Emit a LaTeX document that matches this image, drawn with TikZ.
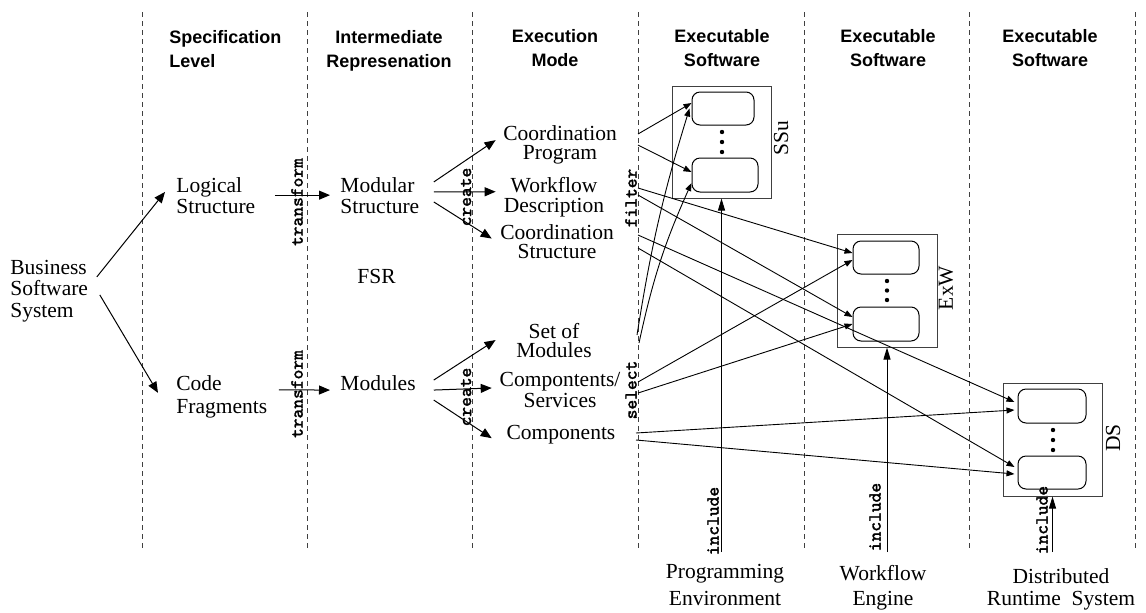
\documentclass[tikz,border=0pt]{standalone}
\usepackage{fontspec}
\setmainfont{Liberation Serif}
\setsansfont{Liberation Sans}
\newfontfamily\monolbl[FakeBold=1.6]{Latin Modern Mono}
\usetikzlibrary{arrows.meta}
\begin{document}
\begin{tikzpicture}[x=0.5pt,y=-0.5pt,
  txt/.style={inner sep=0pt, font=\fontsize{10.75pt}{#1}\selectfont, align=left},
  txt/.default=10.5pt,
  hdr/.style={inner sep=0pt, font=\sffamily\bfseries\fontsize{9pt}{11.75pt}\selectfont, align=center, anchor=base},
  mono/.style={inner sep=0pt, font=\monolbl\fontsize{9.3pt}{9.5pt}\selectfont, rotate=90},
  divider/.style={dash pattern=on 2.5pt off 2pt, black!75, line width=0.5pt},
  big/.style={-{Triangle[length=5.5pt,width=4.5pt]}, line width=0.5pt},
  sml/.style={-{Triangle[length=4pt,width=3pt]}, line width=0.45pt},
  inc/.style={-{Triangle[length=6pt,width=3.5pt]}, line width=0.5pt},
  boxout/.style={draw=black!75, line width=0.5pt, inner sep=0pt},
  boxin/.style={draw, rounded corners=4pt, line width=0.5pt, inner sep=0pt},
  bulletdot/.style={circle, fill, inner sep=0pt, minimum size=2.2pt}
]
\useasboundingbox (0,0) rectangle (1146,612);

% column dividers
\foreach \x in {142,307,472,638,804,969,1135}
  \draw[divider] (\x,12) -- (\x,548);

% headers (anchor = baseline of last line)
\node[hdr, anchor=base west, align=left] (h1) at (169,67) {Specification\\Level};
\node[hdr] (h2) at (389,67) {Intermediate\\Represenation};
\node[hdr] (h3) at (555,66) {Execution\\Mode};
\node[hdr] (h4) at (722,66) {Executable\\Software};
\node[hdr] (h5) at (888,66) {Executable\\Software};
\node[hdr] (h6) at (1050,66) {Executable\\Software};

% text nodes (anchor = baseline of last line)
\node[txt=10.75pt, anchor=base west] (bss) at (10,317) {Business\\Software\\System};
\node[txt, anchor=base west] (ls) at (176,213) {Logical\\Structure};
\node[txt=11.5pt, anchor=base west] (cf) at (176,413) {Code\\Fragments};
\node[txt, anchor=base west] (ms) at (340,213) {Modular\\Structure};
\node[txt, anchor=base west] (mo) at (340,390) {Modules};
\node[txt, anchor=base west] (fsr) at (357,283) {FSR};

\node[txt=9.5pt, anchor=base, align=center] (cp) at (560,159) {Coordination\\Program};
\node[txt=10pt, anchor=base, align=center] (wd) at (554,212) {Workflow\\Description};
\node[txt=9.5pt, anchor=base, align=center] (cs) at (557,258) {Coordination\\Structure};
\node[txt=9.5pt, anchor=base, align=center] (sm) at (554,357) {Set of\\Modules};
\node[txt=9pt, anchor=base, align=center] (co) at (560,407) {Compontents/\\Services};
\node[txt, anchor=base, align=center] (cm) at (561,439) {Components};

\node[txt=13.5pt, anchor=base, align=center] (pe) at (725,605) {Programming\\Environment};
\node[txt=12.5pt, anchor=base, align=center] (we) at (883,605) {Workflow\\Engine};
\node[txt=11pt, anchor=base, align=center] (drs) at (1061,605) {Distributed\\Runtime~ System};

% rotated mono labels
\node[mono] (t1) at (297,202) {transform};
\node[mono] (t2) at (297,394) {transform};
\node[mono] (c1) at (466,197) {create};
\node[mono] (c2) at (466,397) {create};
\node[mono] (fl) at (631,198) {filter};
\node[mono] (sl) at (631,390) {select};
\node[mono] (i1) at (713,521) {include};
\node[mono] (i2) at (875,517) {include};
\node[mono] (i3) at (1042,520) {include};

% boxes
\node[boxout, minimum width=49.5pt, minimum height=56pt] (ssu) at (721.5,142) {};
\node[boxin, minimum width=31pt, minimum height=16.5pt] (ssuT) at (723,108.5) {};
\node[boxin, minimum width=33pt, minimum height=17pt] (ssuB) at (725,175) {};
\node[bulletdot] (sd1) at (722,132) {};
\node[bulletdot] (sd2) at (722,142) {};
\node[bulletdot] (sd3) at (722,152) {};
\node[txt, rotate=90] (ssuL) at (781,138) {SSu};

\node[boxout, minimum width=50pt, minimum height=56.5pt] (exw) at (887,290.5) {};
\node[boxin, minimum width=33pt, minimum height=16.5pt] (exT) at (886,257.5) {};
\node[boxin, minimum width=33pt, minimum height=17pt] (exB) at (886,324) {};
\node[bulletdot] (ed1) at (887,281) {};
\node[bulletdot] (ed2) at (887,290.5) {};
\node[bulletdot] (ed3) at (887,300) {};
\node[txt, rotate=90] (exL) at (946,288) {ExW};

\node[boxout, minimum width=49.5pt, minimum height=56.5pt] (ds) at (1052.5,439.5) {};
\node[boxin, minimum width=34pt, minimum height=17pt] (dsT) at (1052,406) {};
\node[boxin, minimum width=34pt, minimum height=16.5pt] (dsB) at (1052,472.5) {};
\node[bulletdot] (dd1) at (1053,430) {};
\node[bulletdot] (dd2) at (1053,440) {};
\node[bulletdot] (dd3) at (1053,450) {};
\node[txt, rotate=90] (dsL) at (1113,438) {DS};

% left arrows
\draw[big] ([xshift=4.2pt,yshift=6.9pt]bss.east) -- ([xshift=-5.5pt,yshift=1.6pt]ls.west);
\draw[big] ([xshift=5.7pt,yshift=-2.1pt]bss.east) -- ([xshift=-9pt,yshift=1.75pt]cf.west);
\draw[big] ([xshift=9.6pt]ls.east) -- ([xshift=-5pt]ms.west);
\draw[big] ([xshift=5.6pt,yshift=3.25pt]cf.east) -- ([xshift=-5pt,yshift=-3.7pt]mo.west);

% create arrows
\draw[big] ([xshift=7.1pt,yshift=6.6pt]ms.east) -- ([xshift=-3.65pt,yshift=2.1pt]cp.west);
\draw[big] ([xshift=7.1pt,yshift=1.6pt]ms.east) -- ([xshift=-3.9pt,yshift=2.5pt]wd.west);
\draw[big] ([xshift=7.1pt,yshift=-3.4pt]ms.east) -- ([xshift=-4.1pt,yshift=1.3pt]cs.west);
\draw[big] ([xshift=8.85pt,yshift=1.3pt]mo.east) -- ([xshift=-10.2pt,yshift=0pt]sm.west);
\draw[big] ([xshift=8.85pt,yshift=-3.7pt]mo.east) -- ([xshift=-3.8pt,yshift=0.8pt]co.west);
\draw[big] ([xshift=8.85pt,yshift=-8.7pt]mo.east) -- ([xshift=-7.3pt,yshift=-2pt]cm.west);

% filter / select start points
\coordinate (cpA) at (638,134);
\coordinate (cpB) at (638,145);
\coordinate (wdA) at (638,188);
\coordinate (wdB) at (638,195);
\coordinate (csA) at (638,235);
\coordinate (csB) at (638,248);
\coordinate (smA) at (637,335);
\coordinate (smB) at (639,343);
\coordinate (coA) at (638,382);
\coordinate (coB) at (638,393);
\coordinate (cmA) at (636,433);
\coordinate (cmB) at (636,440);

\draw[sml] (cpA) -- ([yshift=2.75pt]ssuT.west);
\draw[sml] (cpB) -- ([yshift=1.5pt]ssuB.west);
\draw[sml] (wdA) -- ([yshift=2.25pt]exT.west);
\draw[sml] (wdB) -- ([yshift=3.5pt]exB.west);
\draw[sml] (csA) -- ([xshift=-1.5pt,yshift=2pt]dsT.west);
\draw[sml] (csB) -- ([xshift=-1.5pt,yshift=2.75pt]dsB.west);
\draw[sml] (smA) to[bend left=4] ([xshift=-1pt]ssuT.west);
\draw[sml] (smB) to[bend left=6] ([yshift=-4pt]ssuB.west);
\draw[sml] (coA) -- ([yshift=-1.25pt]exT.west);
\draw[sml] (coB) -- (exB.west);
\draw[sml] (cmA) -- ([xshift=-1.5pt,yshift=-2pt]dsT.west);
\draw[sml] (cmB) -- ([xshift=-1.5pt,yshift=-0.75pt]dsB.west);

% include arrows
\coordinate (peIn) at (721.5,552);
\coordinate (weIn) at (887,552);
\coordinate (drIn) at (1052.5,552);
\draw[inc] (peIn) -- (ssu.south);
\draw[inc] (weIn) -- (exw.south);
\draw[inc] (drIn) -- (ds.south);
\end{tikzpicture}
\end{document}
